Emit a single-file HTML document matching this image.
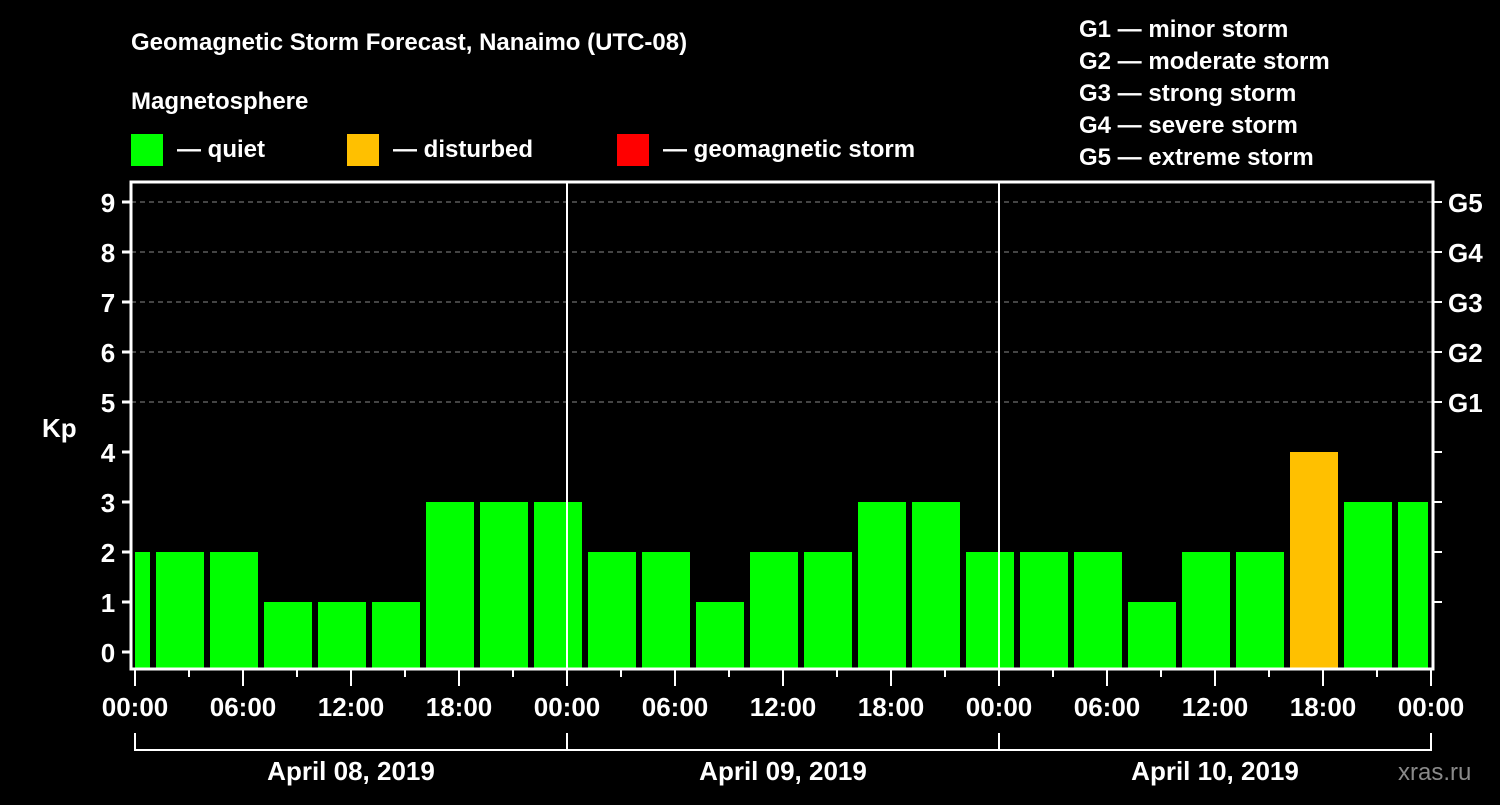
<!DOCTYPE html>
<html><head><meta charset="utf-8"><style>
body{margin:0;background:#000;width:1500px;height:800px;overflow:hidden}
svg text{font-family:"Liberation Sans",Arial,sans-serif;font-weight:bold;fill:#fff}
</style></head><body>
<svg id="c" width="1500" height="800">
<text x="131" y="50" font-size="24">Geomagnetic Storm Forecast, Nanaimo (UTC-08)</text>
<text x="131" y="109" font-size="24">Magnetosphere</text>
<g><rect x="131" y="134" width="32" height="32" fill="#00ff00"/><text x="177" y="157" font-size="24">— quiet</text></g>
<g><rect x="347" y="134" width="32" height="32" fill="#ffc000"/><text x="393" y="157" font-size="24">— disturbed</text></g>
<g><rect x="617" y="134" width="32" height="32" fill="#ff0000"/><text x="663" y="157" font-size="24">— geomagnetic storm</text></g>
<g font-size="24">
<text x="1079" y="37">G1 — minor storm</text><text x="1079" y="69">G2 — moderate storm</text><text x="1079" y="101">G3 — strong storm</text><text x="1079" y="133">G4 — severe storm</text><text x="1079" y="165">G5 — extreme storm</text></g>
<text x="42" y="437" font-size="26">Kp</text>
<text x="1398" y="780" font-size="24" fill="#888" style="fill:#8a8a8a;font-weight:normal">xras.ru</text>
<g id="grid"></g><g id="bars"></g><g id="axes"></g>
</svg>
<script>
const kpValues=[2,2,2,1,1,1,3,3,3,2,2,1,2,2,3,3,2,2,2,1,2,2,4,3,3];
const yTicks=[0,1,2,3,4,5,6,7,8,9];
const gLabels=["G1","G2","G3","G4","G5"];
const xTickLabels=["00:00","06:00","12:00","18:00","00:00","06:00","12:00","18:00","00:00","06:00","12:00","18:00","00:00"];
const dayLabels=["April 08, 2019","April 09, 2019","April 10, 2019"];
const NS="http://www.w3.org/2000/svg";
const x0=135,pxH=18,L=131,R=1433,T=182,B=669;
const xh=h=>x0+h*pxH, yk=v=>652-v*50;
function mk(p,t,a){const e=document.createElementNS(NS,t);for(const k in a)e.setAttribute(k,a[k]);p.appendChild(e);return e;}
const grid=document.getElementById('grid'),bars=document.getElementById('bars'),ax=document.getElementById('axes');
[5,6,7,8,9].forEach(v=>{const l=mk(grid,'line',{x1:L,x2:R,y1:yk(v),y2:yk(v),stroke:'#888','stroke-dasharray':'5,4','stroke-width':1});
});
kpValues.forEach((v,i)=>{let s=xh(-2+3*i)+3,e=xh(1+3*i)-3;s=Math.max(s,x0);e=Math.min(e,xh(72)-3);
const r=mk(bars,'rect',{x:s,y:yk(v),width:e-s,height:B-1-yk(v),fill:v>=5?'#ff0000':v>=4?'#ffc000':'#00ff00'});
});
[24,48].forEach(h=>{const l=mk(ax,'line',{x1:xh(h),x2:xh(h),y1:T,y2:B,stroke:'#fff','stroke-width':2});
});
const box=mk(ax,'rect',{x:L,y:T,width:R-L,height:B-T,fill:'none',stroke:'#fff','stroke-width':3});

yTicks.forEach(v=>{mk(ax,'line',{x1:122,x2:L,y1:yk(v),y2:yk(v),stroke:'#fff','stroke-width':3});
const t=mk(ax,'text',{x:108,y:yk(v)+10,'font-size':26,'text-anchor':'middle'});t.textContent=v;

if(v>=1&&v<=4)mk(ax,'line',{x1:R,x2:1442,y1:yk(v),y2:yk(v),stroke:'#fff','stroke-width':2});});
gLabels.forEach((g,i)=>{const v=5+i;mk(ax,'line',{x1:R,x2:1442,y1:yk(v),y2:yk(v),stroke:'#fff','stroke-width':2});
const t=mk(ax,'text',{x:1448,y:yk(v)+10,'font-size':26});t.textContent=g;
});
for(let h=0;h<=72;h+=3){const maj=h%6==0;mk(ax,'line',{x1:xh(h),x2:xh(h),y1:B,y2:maj?686:677,stroke:'#fff','stroke-width':2});}
xTickLabels.forEach((s,i)=>{const t=mk(ax,'text',{x:xh(i*6),y:716,'font-size':26,'text-anchor':'middle'});t.textContent=s;
});
mk(ax,'path',{d:`M${xh(0)},733V750H${xh(72)}V733M${xh(24)},733V750M${xh(48)},733V750`,fill:'none',stroke:'#fff','stroke-width':2});
dayLabels.forEach((s,i)=>{const t=mk(ax,'text',{x:xh(12+24*i),y:780,'font-size':26,'text-anchor':'middle'});t.textContent=s;
});
</script>
</body></html>
